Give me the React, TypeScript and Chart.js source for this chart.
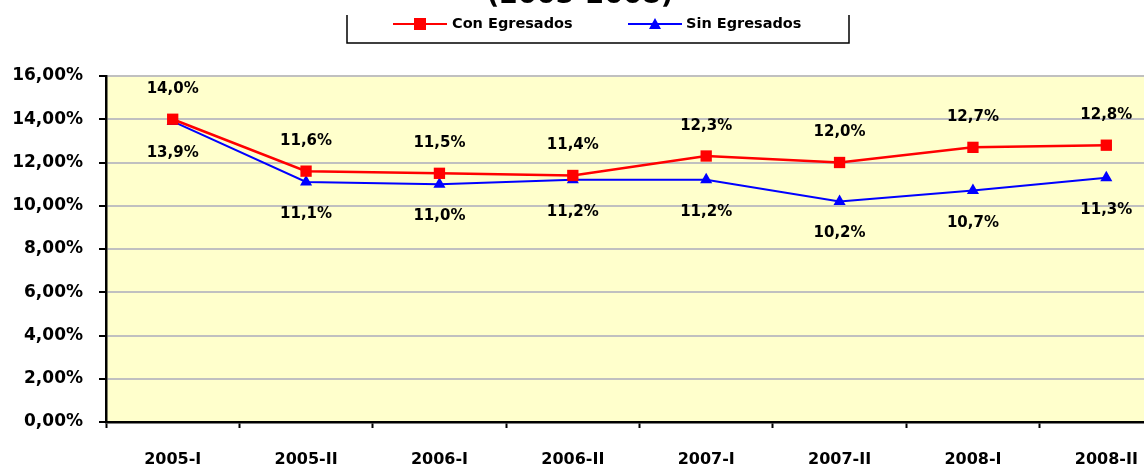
import React, { useEffect, useRef } from "react";
import { Chart, registerables } from "chart.js";

Chart.register(...registerables);

const categories = ["2005-I", "2005-II", "2006-I", "2006-II", "2007-I", "2007-II", "2008-I", "2008-II"];
const conEgresados = [14.0, 11.6, 11.5, 11.4, 12.3, 12.0, 12.7, 12.8];
const sinEgresados = [13.9, 11.1, 11.0, 11.2, 11.2, 10.2, 10.7, 11.3];
const seriesNames = ["Con Egresados", "Sin Egresados"];
const titleText = "(2005-2008)";

const FONT = "DejaVu Sans";

const bgPlugin = {
  id: "plotBg",
  beforeDraw(chart: any) {
    const { ctx, chartArea } = chart;
    ctx.save();
    ctx.fillStyle = "#FFFFCC";
    ctx.fillRect(chartArea.left, chartArea.top, chartArea.right - chartArea.left, chartArea.bottom - chartArea.top);
    ctx.restore();
  },
};

const labelPlugin = {
  id: "dataLabels",
  afterDatasetsDraw(chart: any) {
    const ctx = chart.ctx;
    ctx.save();
    ctx.font = `bold 15px "${FONT}"`;
    ctx.fillStyle = "#000";
    ctx.textAlign = "center";
    ctx.textBaseline = "middle";
    chart.data.datasets.forEach((ds: any, i: number) => {
      const meta = chart.getDatasetMeta(i);
      meta.data.forEach((pt: any, j: number) => {
        const v = ds.data[j] as number;
        const txt = v.toFixed(1).replace(".", ",") + "%";
        const y = i === 0 ? pt.y - 30 : pt.y + 32;
        ctx.fillText(txt, pt.x, y);
      });
    });
    ctx.restore();
  },
};

const headerPlugin = {
  id: "header",
  afterDraw(chart: any) {
    const ctx = chart.ctx;
    ctx.save();
    // title (partly outside the top)
    ctx.font = `bold 27px "${FONT}"`;
    ctx.fillStyle = "#000";
    ctx.textAlign = "center";
    ctx.textBaseline = "alphabetic";
    ctx.fillText(titleText, 580, 3);
    // legend box
    ctx.strokeStyle = "#000";
    ctx.lineWidth = 1.5;
    ctx.beginPath();
    ctx.moveTo(347, 15);
    ctx.lineTo(347, 43);
    ctx.lineTo(849, 43);
    ctx.lineTo(849, 15);
    ctx.stroke();
    const items = [
      { x0: 393, x1: 447, mx: 420, color: "#FF0000", style: "rect", tx: 452 },
      { x0: 628, x1: 682, mx: 655, color: "#0000FF", style: "triangle", tx: 686 },
    ];
    const y = 24;
    items.forEach((it, i) => {
      ctx.strokeStyle = it.color;
      ctx.lineWidth = 2;
      ctx.beginPath();
      ctx.moveTo(it.x0, y);
      ctx.lineTo(it.x1, y);
      ctx.stroke();
      ctx.fillStyle = it.color;
      if (it.style === "rect") {
        ctx.fillRect(it.mx - 6, y - 6, 12, 12);
      } else {
        ctx.beginPath();
        ctx.moveTo(it.mx, y - 6);
        ctx.lineTo(it.mx + 6, y + 5);
        ctx.lineTo(it.mx - 6, y + 5);
        ctx.closePath();
        ctx.fill();
      }
      ctx.fillStyle = "#000";
      ctx.font = `bold 14.5px "${FONT}"`;
      ctx.textAlign = "left";
      ctx.textBaseline = "middle";
      ctx.fillText(seriesNames[i], it.tx, y);
    });
    ctx.restore();
  },
};

export default function App() {
  const ref = useRef<HTMLCanvasElement | null>(null);
  useEffect(() => {
    if (!ref.current) return;
    Chart.defaults.font.family = FONT;
    const chart = new Chart(ref.current, {
      type: "line",
      data: {
        labels: categories,
        datasets: [
          {
            label: seriesNames[0],
            data: conEgresados,
            borderColor: "#FF0000",
            backgroundColor: "#FF0000",
            borderWidth: 2.5,
            pointStyle: "rect",
            pointRadius: 8,
            pointBorderWidth: 0,
            tension: 0,
          },
          {
            label: seriesNames[1],
            data: sinEgresados,
            borderColor: "#0000FF",
            backgroundColor: "#0000FF",
            borderWidth: 2,
            pointStyle: "triangle",
            pointRadius: 7,
            pointBorderWidth: 0,
            tension: 0,
          },
        ],
      },
      options: {
        responsive: false,
        animation: false,
        layout: { padding: { top: 76, right: 17, left: 0, bottom: 0 } },
        plugins: {
          legend: { display: false },
          title: { display: false },
          tooltip: { enabled: false },
        },
        scales: {
          x: {
            type: "category",
            offset: true,
            afterFit: (s: any) => {
              s.height = 46;
            },
            grid: {
              offset: true,
              drawOnChartArea: false,
              drawTicks: true,
              tickLength: 6,
              tickColor: "#000",
              tickWidth: 2,
            },
            border: { color: "#000", width: 2.5 },
            ticks: {
              color: "#000",
              padding: 22,
              maxRotation: 0,
              autoSkip: false,
              font: { family: FONT, size: 16, weight: "bold" },
            },
          },
          y: {
            min: 0,
            max: 16,
            afterFit: (s: any) => {
              s.width = 106;
            },
            grid: {
              color: "#C0C0C0",
              lineWidth: 2,
              drawTicks: true,
              tickLength: 7,
              tickColor: "#000",
              tickWidth: 2,
            },
            border: { color: "#000", width: 2.5 },
            ticks: {
              stepSize: 2,
              color: "#000",
              padding: 16,
              font: { family: FONT, size: 17, weight: "bold" },
              callback: (v: any) => Number(v).toFixed(2).replace(".", ",") + "%",
            },
          },
        },
      },
      plugins: [bgPlugin, labelPlugin, headerPlugin],
    });
    return () => chart.destroy();
  }, []);
  return (
    <div style={{ position: "fixed", left: 0, top: 0, width: 1144, height: 468, overflow: "hidden", background: "#fff" }}>
      <canvas ref={ref} width={1190} height={468} style={{ display: "block" }} />
    </div>
  );
}
